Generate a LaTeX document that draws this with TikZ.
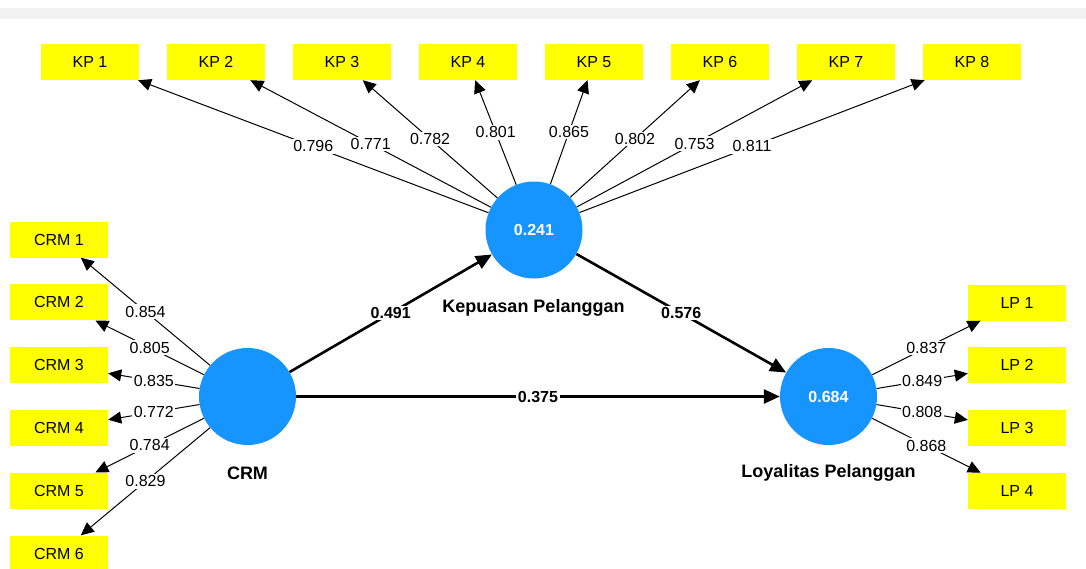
\documentclass[tikz,border=0pt]{standalone}
\usepackage{fontspec}
\setmainfont{Liberation Sans}
\usetikzlibrary{arrows.meta}
\definecolor{lvblue}{RGB}{22,148,255}
\definecolor{mvyellow}{RGB}{255,255,0}
\definecolor{stripgray}{RGB}{242,242,242}
\begin{document}
\begin{tikzpicture}[x=1pt,y=-1pt,
 ind/.style={fill=mvyellow, minimum width=98pt, minimum height=36pt, inner sep=0pt, font=\fontsize{16}{19}\selectfont},
 lv/.style={circle, fill=lvblue, minimum size=97pt, inner sep=0pt, text=white, font=\bfseries\fontsize{16}{19}\selectfont},
 lvname/.style={font=\bfseries\fontsize{18}{21}\selectfont},
 loadarr/.style={-{Triangle[length=13pt,width=12pt]}, line width=1pt},
 patharr/.style={-{Triangle[length=16pt,width=14pt]}, line width=2.6pt},
 lbl/.style={fill=white, inner sep=1.5pt, font=\fontsize{16}{19}\selectfont},
 plbl/.style={fill=white, inner sep=1.5pt, font=\bfseries\fontsize{16}{19}\selectfont}]
\useasboundingbox (0,0) rectangle (1086,568);
\fill[stripgray] (0,8) rectangle (1086,19);

% latent variables
\node[lv] (crm) at (247.5,396.5) {};
\node[lv] (kep) at (534,230) {0.241};
\node[lv] (loy) at (828.5,396.5) {0.684};
\node[lvname] (crmname) at (247.5,473) {CRM};
\node[lvname] (kepname) at (533.5,307.5) {Kepuasan Pelanggan};
\node[lvname] (loyname) at (828.5,473) {Loyalitas Pelanggan};

% KP indicators
\foreach \i in {1,...,8} {
  \node[ind] (kp\i) at ({90+126*(\i-1)},62) {KP \i};
}
% CRM indicators
\foreach \i in {1,...,6} {
  \node[ind] (crm\i) at (59,{239.5+62.8*(\i-1)}) {CRM \i};
}
% LP indicators
\foreach \i in {1,...,4} {
  \node[ind] (lp\i) at (1017,{302.5+62.8*(\i-1)}) {LP \i};
}

% loadings KP
\foreach \i/\v in {1/0.796,2/0.771,3/0.782,4/0.801,5/0.865,6/0.802,7/0.753,8/0.811} {
  \draw[loadarr] (kep) -- node[lbl] {\v} (kp\i);
}
% loadings CRM
\foreach \i/\v in {1/0.854,2/0.805,3/0.835,4/0.772,5/0.784,6/0.829} {
  \draw[loadarr] (crm) -- node[lbl] {\v} (crm\i);
}
% loadings LP
\foreach \i/\v in {1/0.837,2/0.849,3/0.808,4/0.868} {
  \draw[loadarr] (loy) -- node[lbl] {\v} (lp\i);
}

% path coefficients
\draw[patharr] (crm) -- node[plbl] {0.491} (kep);
\draw[patharr] (kep) -- node[plbl] {0.576} (loy);
\draw[patharr] (crm) -- node[plbl] {0.375} (loy);
\end{tikzpicture}
\end{document}
